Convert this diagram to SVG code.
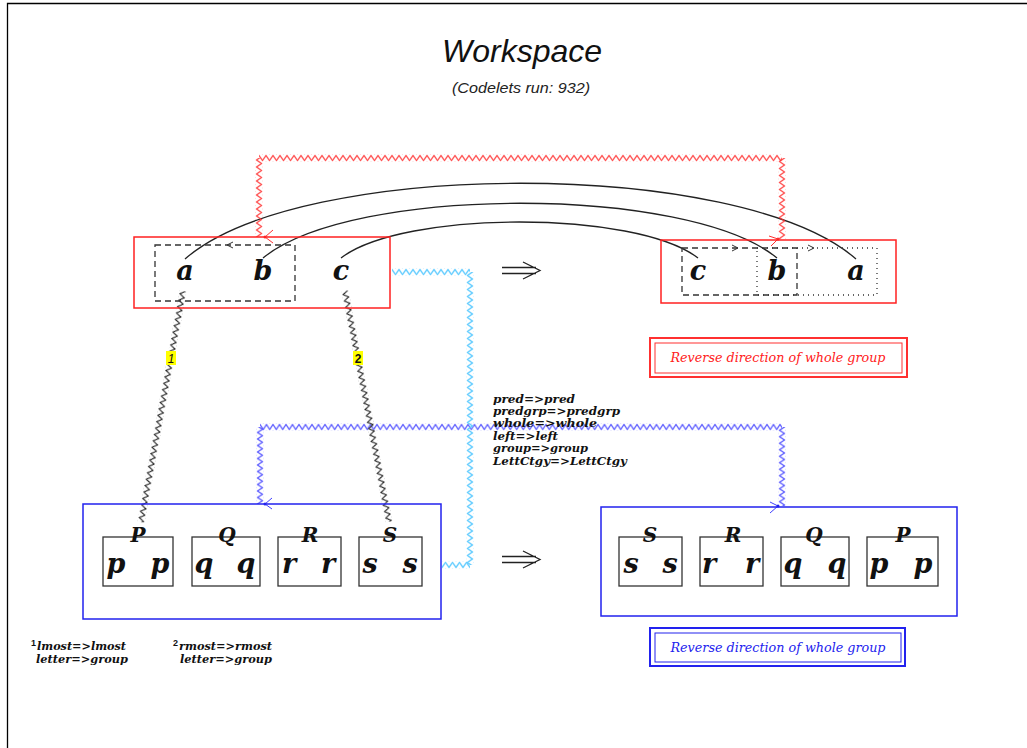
<svg xmlns="http://www.w3.org/2000/svg" width="1027" height="748" viewBox="0 0 1027 748">
<style>
.ltr{font-family:"DejaVu Serif","Liberation Serif",serif;font-weight:bold;font-style:italic;font-size:27px;fill:#111;text-anchor:middle}
.cap{font-family:"DejaVu Serif","Liberation Serif",serif;font-weight:bold;font-style:italic;font-size:20px;fill:#111;text-anchor:middle}
.map{font-family:"DejaVu Serif","Liberation Serif",serif;font-weight:bold;font-style:italic;font-size:11.5px;fill:#111}
.desc{font-family:"DejaVu Serif","Liberation Serif",serif;font-style:italic;font-size:13.5px;text-anchor:middle}
.ibox{fill:none;stroke:#333;stroke-width:1.3}
.redbox{fill:none;stroke:#ff2020;stroke-width:1.5}
.bluebox{fill:none;stroke:#2222ee;stroke-width:1.5}
.arc{fill:none;stroke:#222;stroke-width:1.3}
.lblbg{fill:#fff}
</style>
<defs>
<pattern id="zzR" x="0" y="-3.5" width="7" height="7" patternUnits="userSpaceOnUse"><path d="M-3.5,6 L0,1 L3.5,6 L7,1 L10.5,6" fill="none" stroke="#ff3030" stroke-width="1.1"/></pattern>
<pattern id="zzB" x="0" y="-3.5" width="6.5" height="7" patternUnits="userSpaceOnUse"><path d="M-3.25,6 L0,1 L3.25,6 L6.5,1 L9.75,6" fill="none" stroke="#4040ff" stroke-width="1.1"/></pattern>
<pattern id="zzC" x="0" y="-3.5" width="7" height="7" patternUnits="userSpaceOnUse"><path d="M-3.5,6 L0,1 L3.5,6 L7,1 L10.5,6" fill="none" stroke="#55c8ff" stroke-width="1.3"/></pattern>
<pattern id="zzK" x="0" y="-3.5" width="6.5" height="7" patternUnits="userSpaceOnUse"><path d="M-3.25,6 L0,1 L3.25,6 L6.5,1 L9.75,6" fill="none" stroke="#222" stroke-width="1.1"/></pattern>
</defs>
<rect x="0" y="0" width="1027" height="748" fill="#fff"/>
<path d="M7.5,760 L7.5,3.5 L1040,3.5" fill="none" stroke="#000" stroke-width="1.3"/>

<g id="title">
<text x="522" y="62" font-family="'Liberation Sans',Arial,sans-serif" font-style="italic" font-size="32" text-anchor="middle" fill="#111">Workspace</text>
<text x="521" y="93" font-family="'Liberation Sans',Arial,sans-serif" font-style="italic" font-size="14" text-anchor="middle" fill="#222" textLength="138" lengthAdjust="spacingAndGlyphs">(Codelets run: 932)</text>
</g>

<g id="connectors">
<path class="arc" d="M185,259 C300,158 741,158 856,259"/>
<path class="arc" d="M263,258 C352,185 688,185 777,258"/>
<path class="arc" d="M341,258 C403,210 636,210 698,258"/>
<g transform="translate(259,237) rotate(-90)"><rect x="0" y="-3.5" width="79" height="7" fill="url(#zzR)"/></g>
<g transform="translate(259,158)"><rect x="0" y="-3.5" width="523" height="7" fill="url(#zzR)"/></g>
<g transform="translate(782,158) rotate(90)"><rect x="0" y="-3.5" width="81" height="7" fill="url(#zzR)"/></g>
<path d="M273,230 L265,237 L273,243" fill="none" stroke="#ff3030" stroke-width="1"/>
<circle cx="265" cy="237" r="1.5" fill="#ff3030"/>
<path d="M769,236 L778,239 L771,246" fill="none" stroke="#ff3030" stroke-width="1"/>
<circle cx="778" cy="239" r="1.5" fill="#ff3030"/>
<g transform="translate(260,504) rotate(-90)"><rect x="0" y="-3.5" width="77" height="7" fill="url(#zzB)"/></g>
<g transform="translate(260,427)"><rect x="0" y="-3.5" width="522" height="7" fill="url(#zzB)"/></g>
<g transform="translate(782,427) rotate(90)"><rect x="0" y="-3.5" width="79" height="7" fill="url(#zzB)"/></g>
<path d="M272,498 L265,504 L272,509" fill="none" stroke="#4040ff" stroke-width="1"/>
<circle cx="265" cy="504" r="1.5" fill="#2222ee"/>
<path d="M770,502 L778,506 L770,513" fill="none" stroke="#4040ff" stroke-width="1"/>
<circle cx="778" cy="506" r="1.5" fill="#2222ee"/>
<g transform="translate(392,272)"><rect x="0" y="-3.5" width="78" height="7" fill="url(#zzC)"/></g>
<g transform="translate(470,272) rotate(90)"><rect x="0" y="-3.5" width="293" height="7" fill="url(#zzC)"/></g>
<g transform="translate(470,565) rotate(180)"><rect x="0" y="-3.5" width="28" height="7" fill="url(#zzC)"/></g>
<g transform="translate(183,291) rotate(100.3)"><rect x="0" y="-3.5" width="235" height="7" fill="url(#zzK)"/></g>
<g transform="translate(345,291) rotate(79.2)"><rect x="0" y="-3.5" width="235" height="7" fill="url(#zzK)"/></g>
<rect x="166" y="351" width="10" height="14" fill="#ffff00"/>
<text x="171" y="363" font-family="'Liberation Sans',Arial,sans-serif" font-style="italic" font-size="12" text-anchor="middle" fill="#111">1</text>
<rect x="353" y="351" width="10" height="14" fill="#ffff00"/>
<text x="358" y="363" font-family="'Liberation Sans',Arial,sans-serif" font-weight="bold" font-size="12" text-anchor="middle" fill="#111">2</text>
<path d="M502,267.5 L536,267.5 M502,273.5 L536,273.5 M523,262 L540,270.5 L523,279" fill="none" stroke="#222" stroke-width="1.3"/>
<path d="M502,556.5 L536,556.5 M502,562.5 L536,562.5 M523,551 L540,559.5 L523,568" fill="none" stroke="#222" stroke-width="1.3"/>
</g>

<g id="initial-string">
<rect class="redbox" x="134" y="237" width="256" height="71"/>
<rect x="155" y="245" width="140" height="56" fill="none" stroke="#333" stroke-width="1.3" stroke-dasharray="6,4"/>
<path d="M233,242 L227,245 L233,248" fill="none" stroke="#333" stroke-width="1"/>
<text class="ltr" x="185" y="280">a</text>
<text class="ltr" x="263" y="280">b</text>
<text class="ltr" x="341" y="280">c</text>
</g>

<g id="modified-string">
<rect class="redbox" x="661" y="240" width="235" height="63"/>
<rect x="757" y="248" width="120" height="47" fill="none" stroke="#333" stroke-width="1.3" stroke-dasharray="1,4"/>
<rect x="682" y="248" width="115" height="47" fill="none" stroke="#333" stroke-width="1.3" stroke-dasharray="6,4"/>
<path d="M732,245 L738,248 L732,251 M808,245 L814,248 L808,251" fill="none" stroke="#333" stroke-width="1"/>
<text class="ltr" x="698" y="280">c</text>
<text class="ltr" x="777" y="280">b</text>
<text class="ltr" x="856" y="280">a</text>
</g>

<g id="rule-top">
<rect x="650" y="338" width="257" height="39" fill="none" stroke="#ff3030" stroke-width="2"/>
<rect x="655" y="343" width="247" height="30" fill="none" stroke="#ff3030" stroke-width="1"/>
<text class="desc" x="778" y="362" fill="#ff2020" textLength="215" lengthAdjust="spacingAndGlyphs">Reverse direction of whole group</text>
</g>

<g id="slippages">
<text class="map" x="493" y="403" textLength="82" lengthAdjust="spacingAndGlyphs">pred=&gt;pred</text>
<text class="map" x="493" y="415" textLength="127" lengthAdjust="spacingAndGlyphs">predgrp=&gt;predgrp</text>
<text class="map" x="493" y="427" textLength="104" lengthAdjust="spacingAndGlyphs">whole=&gt;whole</text>
<text class="map" x="493" y="440" textLength="65" lengthAdjust="spacingAndGlyphs">left=&gt;left</text>
<text class="map" x="493" y="452" textLength="95" lengthAdjust="spacingAndGlyphs">group=&gt;group</text>
<text class="map" x="493" y="465" textLength="134" lengthAdjust="spacingAndGlyphs">LettCtgy=&gt;LettCtgy</text>
</g>

<g id="target-string">
<rect class="bluebox" x="83" y="504" width="358" height="115"/>
<rect class="ibox" x="103" y="537" width="70" height="49"/>
<rect class="ibox" x="192" y="537" width="68" height="49"/>
<rect class="ibox" x="278" y="537" width="63" height="49"/>
<rect class="ibox" x="359" y="537" width="63" height="49"/>
<rect class="lblbg" x="128" y="526" width="20" height="10"/>
<rect class="lblbg" x="217" y="526" width="20" height="10"/>
<rect class="lblbg" x="300" y="526" width="20" height="10"/>
<rect class="lblbg" x="380" y="526" width="20" height="10"/>
<text class="cap" x="138" y="542">P</text>
<text class="cap" x="227" y="542">Q</text>
<text class="cap" x="310" y="542">R</text>
<text class="cap" x="390" y="542">S</text>
<text class="ltr" x="116" y="573">p</text>
<text class="ltr" x="160" y="573">p</text>
<text class="ltr" x="204" y="573">q</text>
<text class="ltr" x="246" y="573">q</text>
<text class="ltr" x="289" y="573">r</text>
<text class="ltr" x="328" y="573">r</text>
<text class="ltr" x="370" y="573">s</text>
<text class="ltr" x="410" y="573">s</text>
</g>

<g id="answer-string">
<rect class="bluebox" x="601" y="507" width="356" height="109"/>
<rect class="ibox" x="619" y="537" width="63" height="49"/>
<rect class="ibox" x="700" y="537" width="63" height="49"/>
<rect class="ibox" x="781" y="537" width="68" height="49"/>
<rect class="ibox" x="867" y="537" width="71" height="49"/>
<rect class="lblbg" x="640" y="526" width="20" height="10"/>
<rect class="lblbg" x="723" y="526" width="20" height="10"/>
<rect class="lblbg" x="804" y="526" width="20" height="10"/>
<rect class="lblbg" x="893" y="526" width="20" height="10"/>
<text class="cap" x="650" y="542">S</text>
<text class="cap" x="733" y="542">R</text>
<text class="cap" x="814" y="542">Q</text>
<text class="cap" x="903" y="542">P</text>
<text class="ltr" x="631" y="573">s</text>
<text class="ltr" x="670" y="573">s</text>
<text class="ltr" x="709" y="573">r</text>
<text class="ltr" x="752" y="573">r</text>
<text class="ltr" x="793" y="573">q</text>
<text class="ltr" x="837" y="573">q</text>
<text class="ltr" x="879" y="573">p</text>
<text class="ltr" x="923" y="573">p</text>
</g>

<g id="rule-bottom">
<rect x="650" y="628" width="255" height="38" fill="none" stroke="#2222ee" stroke-width="2"/>
<rect x="655" y="633" width="246" height="29" fill="none" stroke="#2222ee" stroke-width="1"/>
<text class="desc" x="778" y="652" fill="#2222ee" textLength="215" lengthAdjust="spacingAndGlyphs">Reverse direction of whole group</text>
</g>

<g id="footnotes">
<text x="31" y="646" font-family="'Liberation Sans',Arial,sans-serif" font-weight="bold" font-size="9" fill="#111">1</text>
<text class="map" x="37" y="650" textLength="89" lengthAdjust="spacingAndGlyphs">lmost=&gt;lmost</text>
<text class="map" x="36" y="663" textLength="92" lengthAdjust="spacingAndGlyphs">letter=&gt;group</text>
<text x="173" y="646" font-family="'Liberation Sans',Arial,sans-serif" font-weight="bold" font-size="9" fill="#111">2</text>
<text class="map" x="179" y="650" textLength="93" lengthAdjust="spacingAndGlyphs">rmost=&gt;rmost</text>
<text class="map" x="180" y="663" textLength="92" lengthAdjust="spacingAndGlyphs">letter=&gt;group</text>
</g>
</svg>
